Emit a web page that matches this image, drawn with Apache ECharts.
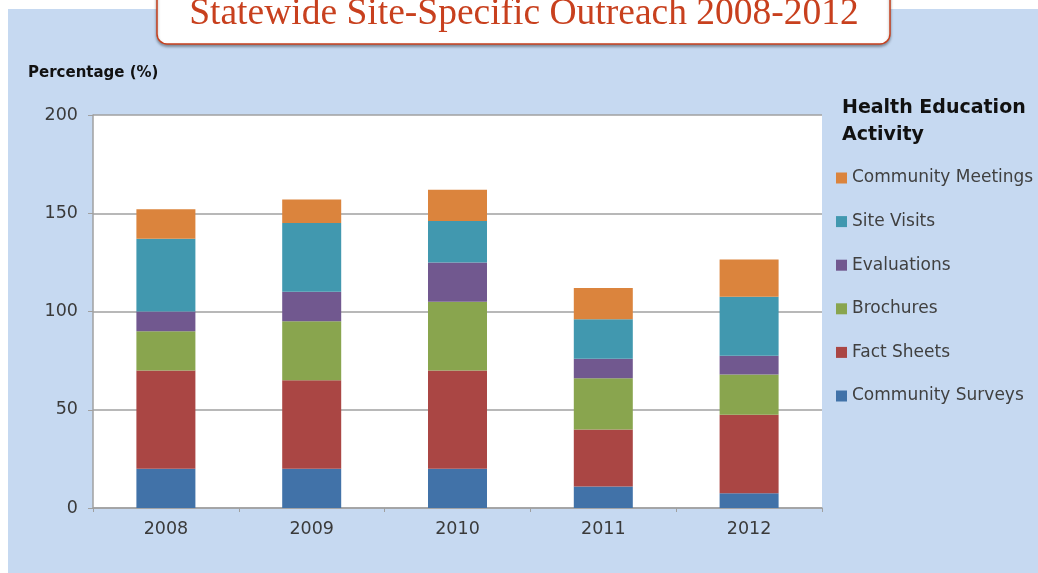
<!DOCTYPE html>
<html>
<head>
<meta charset="utf-8">
<script src="https://cdn.jsdelivr.net/npm/echarts@6/dist/echarts.min.js"></script>
<style>
  html, body { margin: 0; padding: 0; background: #fff; }
  #panel { position: absolute; left: 8px; top: 9px; right: 0; bottom: 0; background: #c6d9f1; }
  #chart { position: absolute; left: 0; top: 0; width: 1038px; height: 573px; }
</style>
</head>
<body>
<div id="panel"></div>
<div id="chart"></div>
<script>
// data
const years = ['2008', '2009', '2010', '2011', '2012']
const communitySurveys = [20, 20, 20, 11, 7.5]
const factSheets = [50, 45, 50, 29, 40]
const brochures = [20, 30, 35, 26, 20.5]
const evaluations = [10, 15, 20, 10, 9.5]
const siteVisits = [37, 35, 21, 20, 30]
const communityMeetings = [15, 12, 16, 16, 19]
const yTicks = [0, 50, 100, 150, 200]

const SERIES = [
  { name: 'Community Surveys', data: communitySurveys, color: '#4172a8' },
  { name: 'Fact Sheets', data: factSheets, color: '#aa4644' },
  { name: 'Brochures', data: brochures, color: '#89a54e' },
  { name: 'Evaluations', data: evaluations, color: '#71588f' },
  { name: 'Site Visits', data: siteVisits, color: '#4198af' },
  { name: 'Community Meetings', data: communityMeetings, color: '#db843d' },
]

const FONT = '"DejaVu Sans", sans-serif'
const chart = echarts.init(document.getElementById('chart'))

chart.setOption({
  backgroundColor: 'transparent',
  animation: false,
  grid: {
    left: 93, right: 216, top: 115, bottom: 65,
    show: true, backgroundColor: '#fff', borderWidth: 0,
  },
  legend: {
    orient: 'vertical',
    left: 836,
    top: 168,
    padding: 0,
    icon: 'rect',
    itemWidth: 11,
    itemHeight: 11,
    itemGap: 23.6,
    data: SERIES.map(s => s.name).reverse(),
    textStyle: { fontFamily: FONT, fontSize: 17, color: '#404040', lineHeight: 20 },
  },
  xAxis: {
    type: 'category',
    data: years,
    axisLine: { lineStyle: { color: '#a0a0a0', width: 1.5 } },
    axisTick: { show: true, length: 4, lineStyle: { color: '#a0a0a0' } },
    axisLabel: { fontFamily: FONT, fontSize: 17.5, color: '#3a3a3a', margin: 12 },
  },
  yAxis: {
    type: 'value',
    min: yTicks[0],
    max: yTicks[yTicks.length - 1],
    interval: 50,
    axisLine: { show: true, lineStyle: { color: '#a0a0a0', width: 1.5 } },
    axisTick: { show: true, length: 5, lineStyle: { color: '#a0a0a0' } },
    axisLabel: { fontFamily: FONT, fontSize: 17.5, color: '#3a3a3a', margin: 15 },
    splitLine: { lineStyle: { color: '#a0a0a0', width: 1.5 } },
  },
  series: SERIES.map(s => ({
    name: s.name,
    type: 'bar',
    stack: 'total',
    barWidth: 59,
    itemStyle: { color: s.color },
    data: s.data,
  })),
  graphic: [
    {
      type: 'rect',
      shape: { x: 157, y: -20, width: 733, height: 64, r: 10 },
      style: {
        fill: '#fff', stroke: '#c8401e', lineWidth: 1.5,
        shadowColor: 'rgba(0,0,0,0.35)', shadowBlur: 3, shadowOffsetY: 2,
      },
      z: 10,
    },
    {
      type: 'text',
      x: 524, y: 33,
      style: {
        text: 'Statewide Site-Specific Outreach 2008-2012',
        font: '37.5px "Liberation Serif", "Times New Roman", serif',
        fill: '#c8401e',
        textAlign: 'center',
        textVerticalAlign: 'bottom',
      },
      z: 11,
    },
    {
      type: 'text',
      x: 28, y: 73,
      style: {
        text: 'Percentage (%)',
        font: 'bold 15px "DejaVu Sans", sans-serif',
        fill: '#111',
        textVerticalAlign: 'middle',
      },
    },
    {
      type: 'text',
      x: 842, y: 95,
      style: {
        text: 'Health Education\nActivity',
        font: 'bold 19px "DejaVu Sans", sans-serif',
        lineHeight: 27,
        fill: '#111',
        textVerticalAlign: 'top',
      },
    },
  ],
})
</script>
</body>
</html>
